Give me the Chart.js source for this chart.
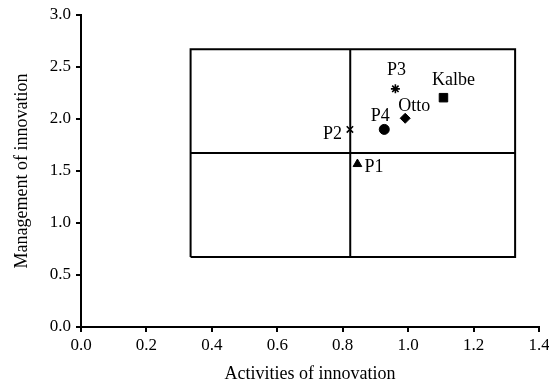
<!DOCTYPE html>
<html>
<head>
<meta charset="utf-8">
<script src="https://cdn.jsdelivr.net/npm/chart.js@4"></script>
<style>
  html, body { margin: 0; padding: 0; background: #fff; }
  #wrap { width: 549px; height: 385px; }
</style>
</head>
<body>
<div id="wrap"><canvas id="quadChart" width="549" height="385"></canvas></div>
<script>
// ===== DATA =====
const names = ["P1", "P2", "P3", "P4", "Otto", "Kalbe"];
const activities = [0.845, 0.822, 0.961, 0.927, 0.991, 1.108];
const management = [1.567, 1.90, 2.29, 1.90, 2.007, 2.205];
const markers = ["triangle", "crossRot", "star", "circle", "rectRot", "rect"];

// quadrant frame (x from/to, y from/to) and split lines
const frameX = [0.335, 1.327];
const frameY = [0.673, 2.67];
const splitX = 0.823;
const splitY = 1.673;

const xTicks = [0, 0.2, 0.4, 0.6, 0.8, 1.0, 1.2, 1.4];
const yTicks = [0, 0.5, 1.0, 1.5, 2.0, 2.5, 3.0];

// label placement relative to each point (pixels)
const labelPos = {
    P1: { dx: 7, dy: 3, align: "left" },
    P2: { dx: -8, dy: 5, align: "right" },
    P3: { dx: 1, dy: -19, align: "center" },
    P4: { dx: -4, dy: -13, align: "center" },
    Otto: { dx: 9, dy: -12, align: "center" },
    Kalbe: { dx: 10, dy: -17, align: "center" }
};

const FONT = "'Liberation Serif', 'Times New Roman', serif";

// ===== DATASETS =====
const lineStyle = {
    type: "line",
    showLine: true,
    borderColor: "#000",
    borderWidth: 2,
    pointRadius: 0,
    fill: false,
    tension: 0
};

const datasets = [
    Object.assign({
        data: [
            { x: frameX[0], y: frameY[0] },
            { x: frameX[1], y: frameY[0] },
            { x: frameX[1], y: frameY[1] },
            { x: frameX[0], y: frameY[1] },
            { x: frameX[0], y: frameY[0] }
        ]
    }, lineStyle),
    Object.assign({
        data: [{ x: splitX, y: frameY[0] }, { x: splitX, y: frameY[1] }]
    }, lineStyle),
    Object.assign({
        data: [{ x: frameX[0], y: splitY }, { x: frameX[1], y: splitY }]
    }, lineStyle)
];

const markerSize = { triangle: 5, crossRot: 4.5, star: 4.5, circle: 5, rectRot: 5, rect: 6 };

names.forEach((n, i) => {
    const cross = markers[i] === "crossRot" || markers[i] === "star";
    datasets.push({
        type: "scatter",
        label: n,
        data: [{ x: activities[i], y: management[i] }],
        pointStyle: markers[i],
        pointRadius: markerSize[markers[i]],
        pointBackgroundColor: "#000",
        pointBorderColor: "#000",
        pointBorderWidth: cross ? 1.6 : 1
    });
});

// ===== POINT LABELS =====
const pointLabels = {
    id: "pointLabels",
    afterDatasetsDraw(chart) {
        const c = chart.ctx;
        const xs = chart.scales.x, ys = chart.scales.y;
        c.save();
        c.fillStyle = "#000";
        c.font = "18px " + FONT;
        c.textBaseline = "middle";
        names.forEach((n, i) => {
            const p = labelPos[n];
            c.textAlign = p.align;
            c.fillText(n, xs.getPixelForValue(activities[i]) + p.dx,
                ys.getPixelForValue(management[i]) + p.dy);
        });
        c.restore();
    }
};

// ===== CHART =====
new Chart(document.getElementById("quadChart"), {
    data: { datasets: datasets },
    options: {
        responsive: false,
        animation: false,
        layout: { padding: { left: 0, right: 10, top: 15, bottom: 0 } },
        plugins: { legend: { display: false }, tooltip: { enabled: false } },
        scales: {
            x: {
                type: "linear",
                min: 0, max: 1.4,
                afterBuildTicks(s) { s.ticks = xTicks.map(v => ({ value: v })); },
                afterFit(s) { s.height = 58; s.paddingLeft = 0; s.paddingRight = 0; },
                border: { color: "#000", width: 2 },
                grid: { drawOnChartArea: false, drawTicks: true, tickLength: 5, color: "#000", lineWidth: 2 },
                ticks: {
                    color: "#000",
                    font: { family: FONT, size: 17 },
                    padding: 3,
                    maxRotation: 0,
                    callback: v => v.toFixed(1)
                },
                title: {
                    display: true,
                    text: "Activities of innovation",
                    color: "#000",
                    font: { family: FONT, size: 18 },
                    padding: { top: 0, bottom: 0 }
                }
            },
            y: {
                type: "linear",
                min: 0, max: 3.0,
                afterBuildTicks(s) { s.ticks = yTicks.map(v => ({ value: v })); },
                afterFit(s) { s.width = 81; s.paddingTop = 0; s.paddingBottom = 0; },
                border: { color: "#000", width: 2 },
                grid: { drawOnChartArea: false, drawTicks: true, tickLength: 5, color: "#000", lineWidth: 2 },
                ticks: {
                    color: "#000",
                    font: { family: FONT, size: 17 },
                    padding: 5,
                    callback: v => v.toFixed(1)
                },
                title: {
                    display: true,
                    text: "Management of innovation",
                    color: "#000",
                    font: { family: FONT, size: 18 },
                    padding: { top: 11, bottom: 0 }
                }
            }
        }
    },
    plugins: [pointLabels]
});
</script>
</body>
</html>
